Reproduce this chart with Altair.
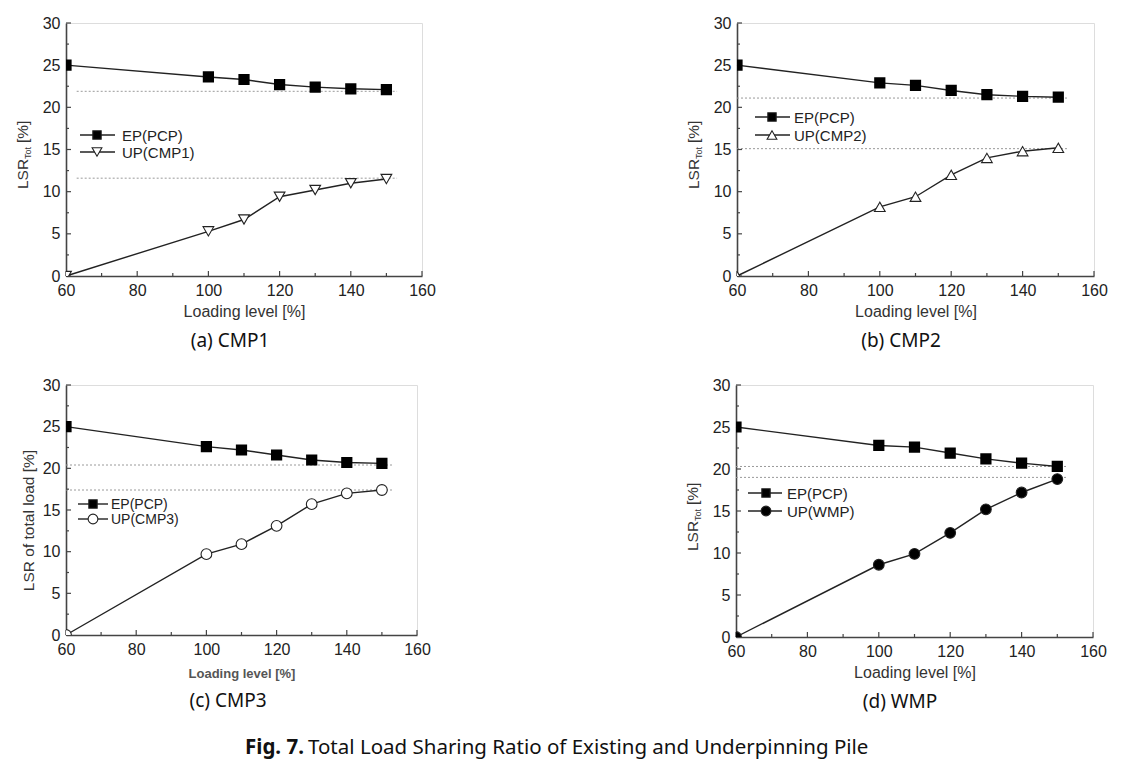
import altair as alt
import pandas as pd

# ---------------- data ----------------
levels = [60, 100, 110, 120, 130, 140, 150]

ep_a = [25.0, 23.6, 23.3, 22.7, 22.4, 22.2, 22.1]
up_a = [0.0, 5.3, 6.7, 9.4, 10.2, 11.0, 11.5]
ref_a = [21.9, 11.6]

ep_b = [25.0, 22.9, 22.6, 22.0, 21.5, 21.3, 21.2]
up_b = [0.0, 8.2, 9.4, 12.0, 14.0, 14.8, 15.2]
ref_b = [21.1, 15.1]

ep_c = [25.0, 22.6, 22.2, 21.6, 21.0, 20.7, 20.6]
up_c = [0.0, 9.7, 10.9, 13.1, 15.7, 17.0, 17.4]
ref_c = [20.4, 17.4]

ep_d = [25.0, 22.8, 22.6, 21.9, 21.2, 20.7, 20.3]
up_d = [0.0, 8.6, 9.9, 12.4, 15.2, 17.2, 18.8]
ref_d = [20.3, 19.0]

x_major = [60, 80, 100, 120, 140, 160]
x_minor = [70, 90, 110, 130, 150]
y_major = [0, 5, 10, 15, 20, 25, 30]
y_minor = [2.5, 7.5, 12.5, 17.5, 22.5, 27.5]

ep_label = "EP(PCP)"
up_labels = ["UP(CMP1)", "UP(CMP2)", "UP(CMP3)", "UP(WMP)"]
captions = ["(a) CMP1", "(b) CMP2", "(c) CMP3", "(d) WMP"]
x_title = "Loading level [%]"
fig_bold = "Fig. 7."
fig_rest = "Total Load Sharing Ratio of Existing and Underpinning Pile"

FONT = "Liberation Sans"
CAP_FONT = "Noto Sans"
LINE = "#222222"


def one():
    return pd.DataFrame({"k": [0]})


def panel(ep, up, refs, ref_x1, shape, up_fill, up_label, caption, W, H,
          cap_x, cap_y, leg, lsr_tot, ytitle, xt_size, xt_weight, xt_color,
          xt_pad, leg_size):
    xs = alt.Scale(domain=[60, 160], nice=False, zero=False)
    ys = alt.Scale(domain=[0, 30], nice=False, zero=False)
    xax = alt.Axis(values=x_major, ticks=False, grid=False, labelFontSize=16,
                   labelPadding=6, labelColor="#222", domainColor="#444",
                   domainWidth=1.6, title=x_title, titleFontSize=xt_size,
                   titleFontWeight=xt_weight, titleColor=xt_color,
                   titlePadding=xt_pad, labelFlush=False, format="d")
    if lsr_tot:
        yax = alt.Axis(values=y_major, ticks=False, grid=False, labelFontSize=16,
                       labelPadding=6, labelColor="#222", domainColor="#444",
                       domainWidth=1.6, title=None, labelFlush=False, format="d")
    else:
        yax = alt.Axis(values=y_major, ticks=False, grid=False, labelFontSize=16,
                       labelPadding=6, labelColor="#222", domainColor="#444",
                       domainWidth=1.6, title=ytitle, titleFontSize=15.5,
                       titleFontWeight="normal", titleColor="#333",
                       titlePadding=6, titleY=135, labelFlush=False, format="d")

    df = pd.DataFrame({"x": levels * 2, "y": ep + up,
                       "s": ["EP"] * len(levels) + ["UP"] * len(levels)})
    X = alt.X("x:Q", scale=xs, axis=xax)
    Y = alt.Y("y:Q", scale=ys, axis=yax)

    layers = []
    # reference dotted lines
    rdf = pd.DataFrame({"y": refs, "x": [ref_x1] * len(refs), "xe": [153] * len(refs)})
    layers.append(alt.Chart(rdf).mark_rule(color="#9a9a9a", strokeWidth=1,
                                           strokeDash=[2, 2]).encode(
        x=X, x2="xe:Q", y=Y))
    # inward ticks
    tx1 = pd.DataFrame({"x": x_major})
    layers.append(alt.Chart(tx1).mark_rule(color="#444", strokeWidth=1.2).encode(
        x=X, y=alt.value(H), y2=alt.value(H - 5)))
    tx2 = pd.DataFrame({"x": x_minor})
    layers.append(alt.Chart(tx2).mark_rule(color="#444", strokeWidth=1.2).encode(
        x=X, y=alt.value(H), y2=alt.value(H - 3)))
    ty1 = pd.DataFrame({"y": y_major})
    layers.append(alt.Chart(ty1).mark_rule(color="#444", strokeWidth=1.2).encode(
        y=Y, x=alt.value(0), x2=alt.value(5)))
    ty2 = pd.DataFrame({"y": y_minor})
    layers.append(alt.Chart(ty2).mark_rule(color="#444", strokeWidth=1.2).encode(
        y=Y, x=alt.value(0), x2=alt.value(3)))
    # series lines
    layers.append(alt.Chart(df).mark_line(color=LINE, strokeWidth=1.4).encode(
        x=X, y=Y, detail="s:N"))
    # markers
    layers.append(alt.Chart(df[df.s == "EP"]).mark_point(
        shape="square", size=85, filled=True, fill="#000", stroke="#000",
        opacity=1, clip=True).encode(x=X, y=Y))
    layers.append(alt.Chart(df[df.s == "UP"]).mark_point(
        shape=shape, size=115, filled=True, fill=up_fill, stroke="#222",
        strokeWidth=1.1, opacity=1, clip=True).encode(x=X, y=Y))

    # legend
    lx1, lx2, lm, lt, r1, r2 = leg
    for row, lab, shp, fil, sz in [(r1, ep_label, "square", "#000", 70),
                                   (r2, up_label, shape, up_fill, 95)]:
        layers.append(alt.Chart(one()).mark_rule(color=LINE, strokeWidth=1.4).encode(
            x=alt.value(lx1), x2=alt.value(lx2), y=alt.value(row)))
        layers.append(alt.Chart(one()).mark_point(
            shape=shp, size=sz, filled=True, fill=fil, stroke="#222",
            strokeWidth=1.1, opacity=1).encode(x=alt.value(lm), y=alt.value(row)))
        layers.append(alt.Chart(one()).mark_text(
            align="left", baseline="middle", font=FONT, fontSize=leg_size,
            color="#222").encode(x=alt.value(lt), y=alt.value(row + 1),
                                 text=alt.value(lab)))

    # manual y title with subscript
    if lsr_tot:
        mid = 131
        layers.append(alt.Chart(one()).mark_text(
            angle=270, align="left", baseline="middle", font=FONT, fontSize=15.5,
            color="#333").encode(x=alt.value(-43), y=alt.value(mid + 35),
                                 text=alt.value("LSR")))
        layers.append(alt.Chart(one()).mark_text(
            angle=270, align="left", baseline="middle", font=FONT, fontSize=9,
            color="#333").encode(x=alt.value(-38), y=alt.value(mid + 5),
                                 text=alt.value("Tot")))
        layers.append(alt.Chart(one()).mark_text(
            angle=270, align="left", baseline="middle", font=FONT, fontSize=15.5,
            color="#333").encode(x=alt.value(-43), y=alt.value(mid - 11),
                                 text=alt.value("[%]")))

    # caption
    layers.append(alt.Chart(one()).mark_text(
        align="center", baseline="middle", font=CAP_FONT, fontSize=19,
        color="#111").encode(x=alt.value(cap_x), y=alt.value(cap_y),
                             text=alt.value(caption)))

    return alt.layer(*layers).properties(width=W, height=H)


pa = panel(ep_a, up_a, ref_a, 63, "triangle-down", "#fff", up_labels[0], captions[0],
           356, 253, 164, 318, (14, 49, 31, 56, 112, 129), True, None, 16, "normal",
           "#333", 5, 15)
pb = panel(ep_b, up_b, ref_b, 60, "triangle-up", "#fff", up_labels[1], captions[1],
           357, 253, 164, 318, (18, 53, 35, 57, 94, 112), True, None, 16, "normal",
           "#333", 5, 15)
pc = panel(ep_c, up_c, ref_c, 60, "circle", "#fff", up_labels[2], captions[2],
           351, 250, 162, 316, (12, 42, 27, 45, 119, 134), False,
           "LSR of total load [%]", 13, "bold", "#555", 10, 14)
pd_ = panel(ep_d, up_d, ref_d, 60, "circle", "#000", up_labels[3], captions[3],
            357, 252, 164, 317, (12, 46, 30, 51, 108, 126), True, None, 16, "normal",
            "#333", 5, 15)

title_row = alt.layer(
    alt.Chart(one()).mark_text(align="left", baseline="middle", font=CAP_FONT,
                               fontSize=20.5, fontWeight="bold", color="#111").encode(
        x=alt.value(179), y=alt.value(10), text=alt.value(fig_bold)),
    alt.Chart(one()).mark_text(align="left", baseline="middle", font=CAP_FONT,
                               fontSize=20.5, color="#111").encode(
        x=alt.value(242), y=alt.value(10), text=alt.value(fig_rest)),
).properties(width=1000, height=20, view=alt.ViewBackground(stroke="transparent"))

row1 = alt.hconcat(pa, pb, spacing=250)
row2 = alt.hconcat(pc, pd_, spacing=254)

chart = alt.vconcat(row1, row2, title_row, spacing=24).properties(
    padding={"left": 7, "top": 6, "right": 0, "bottom": 0}
).configure_view(stroke="#666", strokeWidth=1.5).configure(font=FONT)

chart.save("out.html", embed_options={"renderer": "svg", "actions": False})
